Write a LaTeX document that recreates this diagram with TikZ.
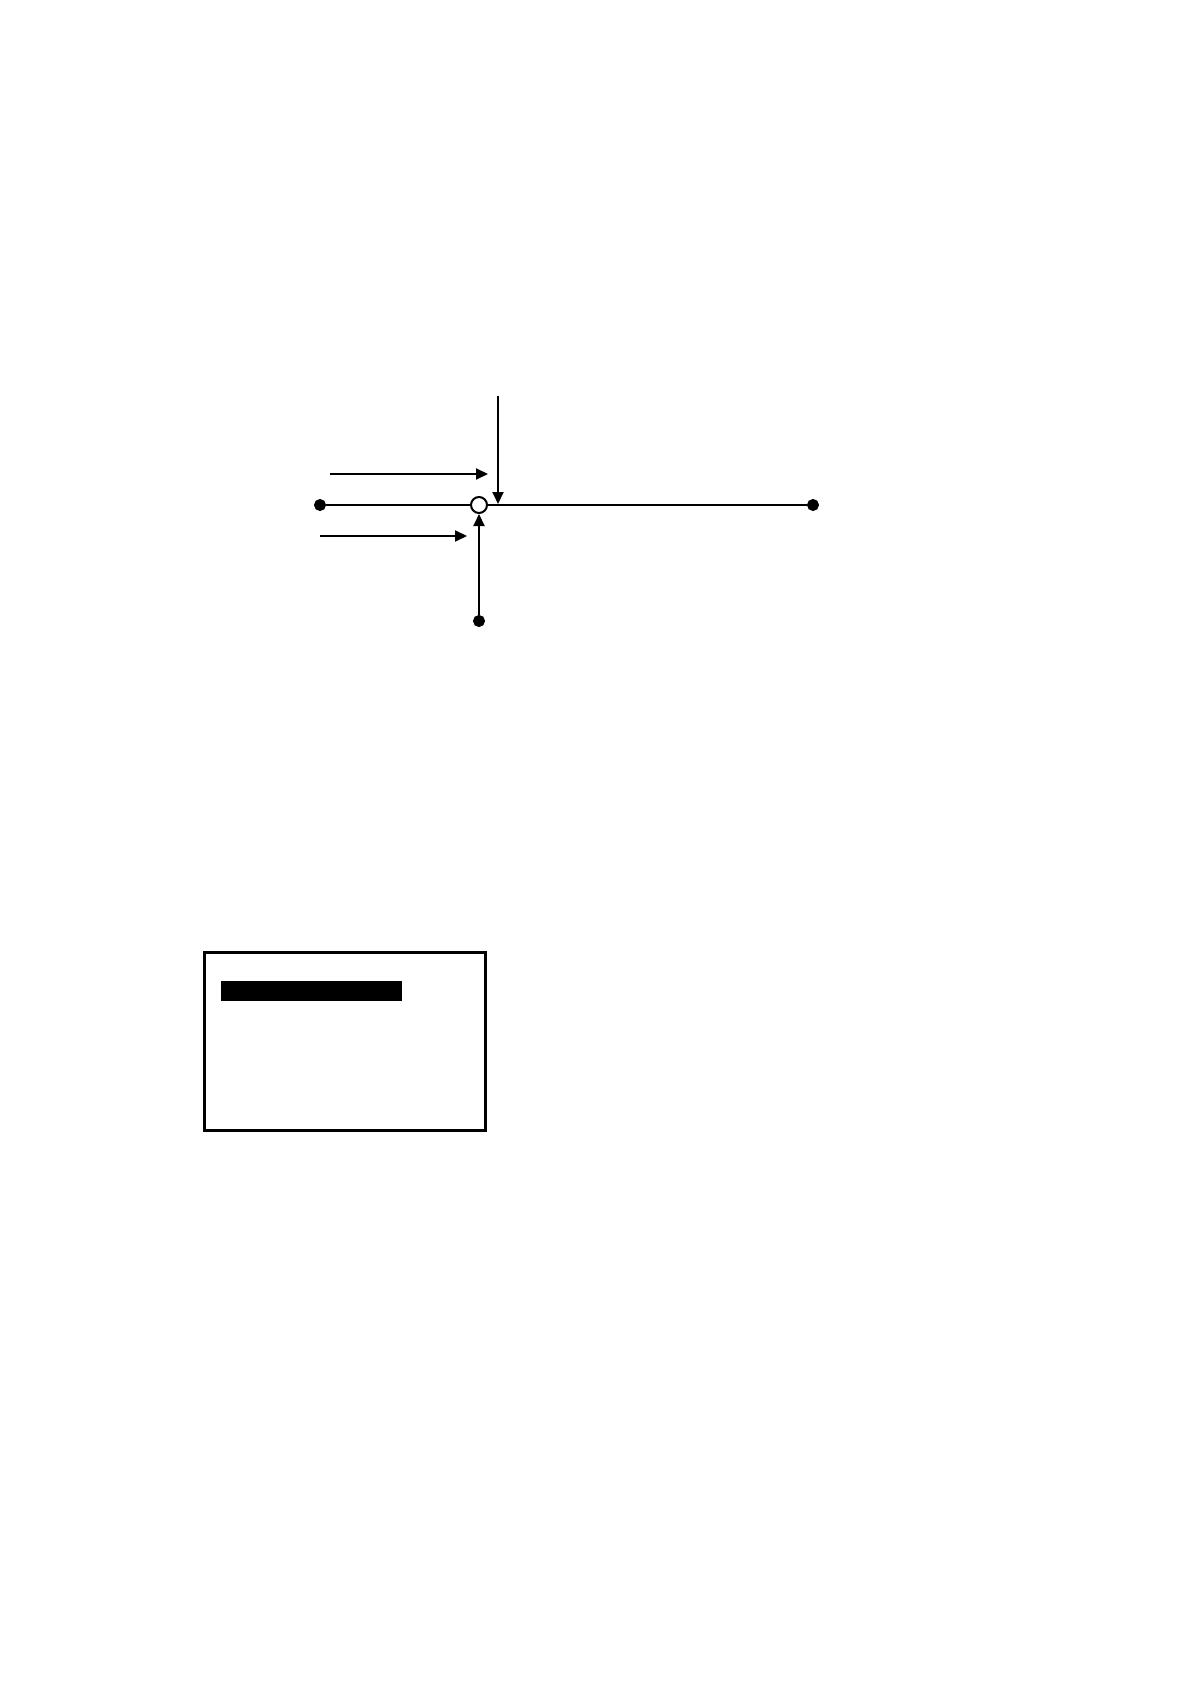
\documentclass[tikz,border=0pt]{standalone}
\usepackage{tikz}
\usetikzlibrary{arrows.meta}
\tikzstyle{blackdot}=[circle,draw=black,fill=black,
                      inner sep=0pt,minimum size=5.6pt]
\tikzstyle{whitedot}=[circle,draw=black,fill=white,line width=1pt,
                      inner sep=0pt,minimum size=8pt]
\tikzstyle{wire}=[line width=1pt]
\tikzstyle{feed}=[line width=1pt,-{Triangle[length=6pt,width=5.5pt]}]
\tikzstyle{panel}=[draw=black,line width=1.4pt,inner sep=0pt,
                   minimum width=140.5pt,minimum height=89pt]
\tikzstyle{bar}=[fill=black,inner sep=0pt,
                 minimum width=90.65pt,minimum height=10pt]

\begin{document}
\begin{tikzpicture}[x=0.5pt,y=-0.5pt]
    \useasboundingbox (0,0) rectangle (1190,1684);
    % junction and ends
    \node (p1) at (320, 505) [blackdot]{};
    \node (p2) at (479, 505) [whitedot]{};
    \node (p3) at (813, 505) [blackdot]{};
    \node (p4) at (479, 621) [blackdot]{};
    \draw[wire] (p1) -- (p2) -- (p3);
    \draw[feed] (p4) -- (p2);
    % incoming arrows
    \coordinate (d1) at (498, 396);
    \coordinate (d2) at (498, 504);
    \coordinate (u1) at (330, 474);
    \coordinate (u2) at (488, 474);
    \coordinate (l1) at (320, 536);
    \coordinate (l2) at (467, 536);
    \draw[feed] (d1) -- (d2);
    \draw[feed] (u1) -- (u2);
    \draw[feed] (l1) -- (l2);
    % legend box
    \node (box) at (344.8, 1041.85) [panel]{};
    \node (key) at (311.35, 991) [bar]{};
  \end{tikzpicture}
\end{document}
